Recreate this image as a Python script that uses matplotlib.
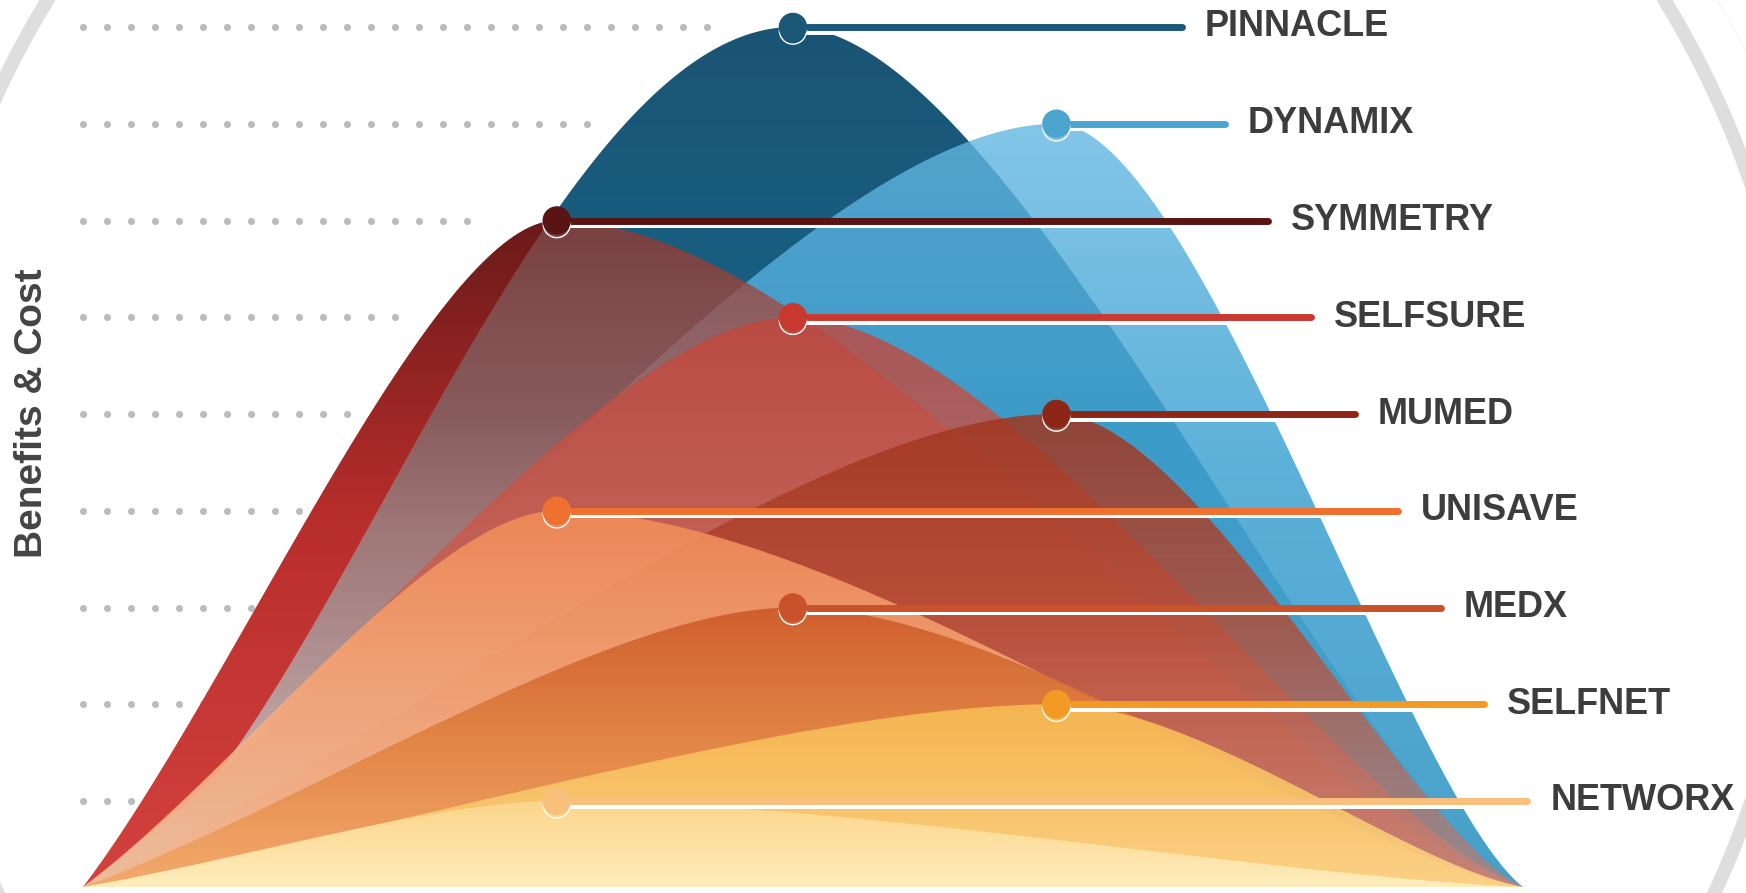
import numpy as np
import matplotlib
matplotlib.use("Agg")
import matplotlib.pyplot as plt
from matplotlib.patches import Polygon, Ellipse
import matplotlib.patheffects as pe
from matplotlib.colors import to_rgb

# ---------------- data ----------------
names = ["PINNACLE", "DYNAMIX", "SYMMETRY", "SELFSURE", "MUMED",
         "UNISAVE", "MEDX", "SELFNET", "NETWORX"]
peak_time = [49.3, 67.6, 32.9, 49.3, 67.6, 32.9, 49.3, 67.6, 32.9]
peak_value = [100, 88.75, 77.5, 66.25, 55, 43.75, 32.5, 21.25, 10]
guide_dots = [27, 22, 17, 14, 12, 10, 8, 6, 3]

line_colors = ["#1b5878", "#4aa5cf", "#5a1414", "#c83a30", "#8e2618",
               "#f07030", "#c9522a", "#f39a25", "#f9c07c"]
# fill colours at bottom / middle / top of each shape
fill_colors = [
    ["#287da0", "#166487", "#1b5474"],
    ["#3195c2", "#40a3d3", "#63b8e2"],
    ["#e08070", "#d46a58", "#96382e"],
    ["#e8907c", "#d05a4a", "#c4463a"],
    ["#d87a64", "#b84a32", "#a0361f"],
    ["#fbc9a0", "#f6a878", "#f28c58"],
    ["#f3a866", "#e0803e", "#cc5a28"],
    ["#fdd98c", "#fbc868", "#f9bd55"],
    ["#fff1c4", "#fee3a6", "#fcd992"],
]
fill_alphas = [
    [0.10, 1.00, 1.00],
    [0.90, 0.85, 0.80],
    [0.35, 0.62, 0.78],
    [0.50, 0.75, 0.80],
    [0.55, 0.80, 0.85],
    [0.80, 0.88, 0.90],
    [0.85, 0.90, 0.90],
    [0.85, 0.88, 0.88],
    [0.90, 0.88, 0.88],
]
# colour of a shape where it lies over blank paper (None = as above)
outer_colors = [None, None, ["#d4423e", "#b82e2c", "#6a1a1a"],
                None, None, None, None, None, None]
stop_pos = [0.0, 0.55, 1.0]

y_label = "Benefits & Cost"

# ---------------- curve shape (Bezier handles of the rising / falling side)
rise_default = ((0.32, 0.30), (0.74, 1.0))
rise_special = {"PINNACLE": ((0.30, 0.05), (0.62, 1.0))}
fall_default = ((0.25, 0.12), (0.70, 1.0))

# ---------------- layout ----------------
W, H = 1746, 893
PX_LEFT, PX_RIGHT, PX_BASE, PX_TOP = 83, 1523, 887, 27
sx = (PX_RIGHT - PX_LEFT) / 100.0
sy = (PX_BASE - PX_TOP) / 100.0

fig = plt.figure(figsize=(W / 100, H / 100), dpi=100)
ax = fig.add_axes([0, 0, 1, 1])
ax.set_xlim(-PX_LEFT / sx, (W - PX_LEFT) / sx)
ax.set_ylim(-(H - PX_BASE) / sy, PX_BASE / sy)
ax.axis("off")


def px2data(px, py):
    return (px - PX_LEFT) / sx, (PX_BASE - py) / sy


def bezier(p1, p2, n=200):
    u = np.linspace(0, 1, n)
    bx = 3 * (1 - u) ** 2 * u * p1[0] + 3 * (1 - u) * u ** 2 * p2[0] + u ** 3
    by = 3 * (1 - u) ** 2 * u * p1[1] + 3 * (1 - u) * u ** 2 * p2[1] + u ** 3
    return bx, by


xgrid = np.linspace(0, 100, 1201)


def curve(name, px, h):
    lx, ly = bezier(*rise_special.get(name, rise_default))
    rx, ry = bezier(*fall_default)
    xl = lx * px
    yl = ly * h
    xr = 100 - rx[::-1] * (100 - px)
    yr = ry[::-1] * h
    x = np.concatenate([xl, xr[1:]])
    y = np.concatenate([yl, yr[1:]])
    return np.interp(xgrid, x, y)


def gradient_fill(upper, lower, colors, alphas, ytop, z):
    verts = np.concatenate([np.column_stack([xgrid, upper]),
                            np.column_stack([xgrid[::-1], lower[::-1]])])
    poly = Polygon(verts, closed=True, fc="none", ec="none",
                   transform=ax.transData)
    ax.add_patch(poly)
    t = np.linspace(0, 1, 256)
    cols = np.array([to_rgb(c) for c in colors])
    rgb = np.column_stack([np.interp(t, stop_pos, cols[:, k]) for k in range(3)])
    a = np.interp(t, stop_pos, alphas)
    img = np.column_stack([rgb, a])[:, None, :]
    im = ax.imshow(img, extent=[0, 100, 0, ytop], origin="lower",
                   aspect="auto", interpolation="bilinear", zorder=z)
    im.set_clip_path(poly)


# decorative big circle
cx, cy = px2data(856, 493)
R = 947
ax.add_patch(Ellipse((cx, cy), 2 * R / sx, 2 * R / sy, fill=False,
                     ec="#dedede", lw=10, zorder=0))
ax.add_patch(Ellipse((cx, cy), 2 * 993 / sx, 2 * 993 / sy, fill=False,
                     ec="#eeeeee", lw=0.8, ls=(0, (2, 2)), zorder=0))

# dotted guides
dot_step = 24 / sx
for h, n in zip(peak_value, guide_dots):
    xs = np.arange(n) * dot_step
    ax.scatter(xs, np.full(n, h), s=26, color="#bcbcbc", lw=0, zorder=1)

# fills
curves = [curve(nm, p, h) for nm, p, h in zip(names, peak_time, peak_value)]
zero = np.zeros_like(xgrid)
envelope = zero.copy()
for i in range(len(names)):
    f = curves[i]
    gradient_fill(f, zero, fill_colors[i], fill_alphas[i], peak_value[i],
                  2 + i * 0.01)
    if outer_colors[i] is not None:
        lower = np.minimum(envelope, f)
        gradient_fill(f, lower, outer_colors[i], [1, 1, 1], peak_value[i],
                      2 + i * 0.01 + 0.005)
    envelope = np.maximum(envelope, f)

# leader lines, markers and labels
shadow = [pe.SimpleLineShadow(offset=(0, -2.6), shadow_color="white",
                              alpha=1.0), pe.Normal()]
for i, name in enumerate(names):
    x_end = 76.3 + 3.0 * i
    h = peak_value[i]
    ax.plot([peak_time[i], x_end], [h, h], color=line_colors[i], lw=5,
            solid_capstyle="round", zorder=10, path_effects=shadow)
    ax.plot([peak_time[i]], [h], "o", ms=19.5, color=line_colors[i],
            mec=line_colors[i], zorder=11, path_effects=shadow)
    ax.text(x_end + 1.6, h, name, fontsize=26, fontweight="bold",
            family=["Liberation Sans", "DejaVu Sans"],
            color="#3d3d3d", va="center", ha="left", zorder=12)

lx, ly = px2data(32, 413)
ax.text(lx, ly, y_label, rotation=90, fontsize=28, fontweight="bold",
        family=["Liberation Sans", "DejaVu Sans"], color="#444444",
        va="center", ha="center")

fig.savefig("out.png", dpi=100)
